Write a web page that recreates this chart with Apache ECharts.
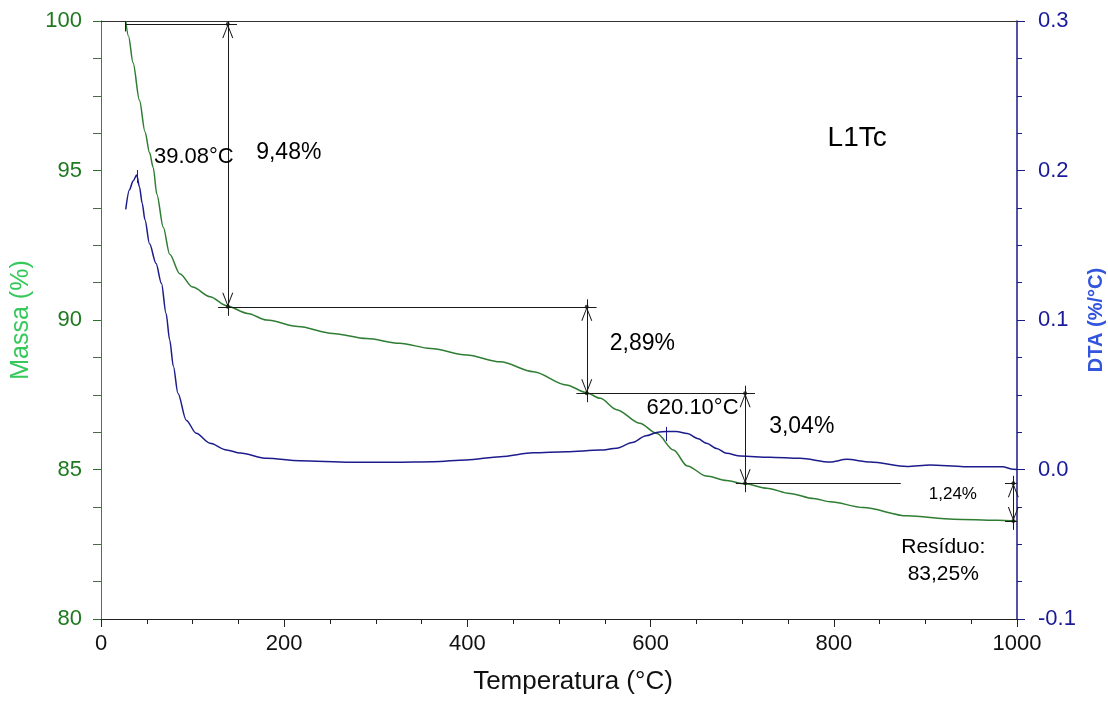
<!DOCTYPE html>
<html>
<head>
<meta charset="utf-8">
<script src="https://cdn.jsdelivr.net/npm/echarts@6.0.0/dist/echarts.min.js"></script>
<style>html,body{margin:0;background:#fff;overflow:hidden}#chart{width:1108px;height:702px}</style>
</head>
<body>
<div id="chart"></div>
<script>
// TGA curve (mass %) vs temperature
const massT = [27, 30, 35, 42, 48, 53, 57, 61, 68, 75, 86, 100, 119, 137, 160, 181, 215, 253, 290, 326, 360, 399, 436, 472, 508, 530, 545, 563, 588, 607, 625, 640, 661, 683, 703, 727, 752, 778, 796, 832, 880, 931, 978, 1000];
const massV = [100.0, 99.5, 98.6, 97.35, 96.3, 95.6, 95.1, 94.2, 93.1, 92.2, 91.55, 91.1, 90.78, 90.48, 90.22, 90.0, 89.78, 89.55, 89.38, 89.22, 89.05, 88.83, 88.6, 88.27, 87.83, 87.57, 87.38, 87.0, 86.55, 86.2, 85.65, 85.12, 84.78, 84.63, 84.52, 84.37, 84.2, 84.03, 83.92, 83.73, 83.45, 83.34, 83.3, 83.27];

// DTA curve (%/°C)
const dtaT = [27, 31, 35, 39, 42, 45, 48, 53, 60, 66, 71, 75, 79, 84, 93, 104, 119, 137, 152, 181, 217, 272, 320, 363, 399, 436, 472, 508, 545, 563, 580, 595, 608, 617, 628, 640, 652, 661, 672, 683, 698, 730, 763, 796, 814, 840, 880, 905, 942, 984, 996, 1000];
const dtaV = [0.174, 0.187, 0.193, 0.197, 0.189, 0.178, 0.167, 0.151, 0.138, 0.1245, 0.1045, 0.0866, 0.069, 0.051, 0.033, 0.0242, 0.0176, 0.0131, 0.011, 0.0075, 0.0059, 0.0048, 0.0049, 0.0052, 0.0064, 0.0086, 0.0112, 0.0119, 0.013, 0.0142, 0.018, 0.0225, 0.025, 0.0255, 0.0255, 0.024, 0.0205, 0.0175, 0.014, 0.0108, 0.009, 0.0082, 0.0075, 0.005, 0.0068, 0.005, 0.002, 0.003, 0.0019, 0.0019, 0.0001, 0.0];

// mass-loss steps (vertical arrows)
const stepT = [138.4, 530.3, 703.2, 996];
const stepTop = [99.9, 90.44, 87.55, 84.54];
const stepBottom = [90.44, 87.55, 84.54, 83.28];

// horizontal guide lines
const guideM = [99.9, 90.44, 87.55, 84.54, 83.28];
const guideFrom = [27, 127.8, 519, 693, 987];
const guideTo = [148.5, 541, 714, 1000, 1000];

// DTA peak markers
const peakT = [39.3, 617.5];
const peakHi = [0.2003, 0.0285];
const peakLo = [0.1916, 0.019];

// text notes
const noteText = ['39.08°C', '9,48%', 'L1Tc', '2,89%', '620.10°C', '3,04%', '1,24%', 'Resíduo:\n83,25%'];
const noteT = [101.3, 205, 825.5, 591, 645.8, 765, 930, 919.5];
const noteM = [95.45, 95.6, 96.09, 89.22, 87.05, 86.43, 84.18, 81.96];

const FONT = '"Liberation Sans", Arial, sans-serif';
const arrowPath = 'path://M4.9,-14L5.1,-14Z M5,0L10,14L9,14L5,2.5L1,14L0,14Z';

const chart = echarts.init(document.getElementById('chart'));

const markLines = [];
guideM.forEach((m, i) => {
  markLines.push([{ coord: [guideFrom[i], m] }, { coord: [guideTo[i], m] }]);
});
stepT.forEach((t, i) => {
  const dashed = i === stepT.length - 1;
  markLines.push([
    { coord: [t, Math.min(100, stepTop[i] + 0.25)] },
    { coord: [t, stepBottom[i] - 0.3] }
  ]);
  markLines.push([
    { coord: [t, stepTop[i]], symbol: arrowPath, symbolSize: [11, 28] },
    { coord: [t, stepBottom[i]], symbol: arrowPath, symbolSize: [11, 28], lineStyle: { type: dashed ? 'dashed' : 'solid' } }
  ]);
});
// start marker of first guide
markLines.push([{ coord: [guideFrom[0], 100] }, { coord: [guideFrom[0], 99.65] }]);

const peakLines = peakT.map((t, i) => [{ coord: [t, peakHi[i]] }, { coord: [t, peakLo[i]] }]);

function noteSize(s) {
  if (s === 'L1Tc') return 28;
  if (s === '1,24%') return 17;
  if (s.indexOf('Resíduo') === 0) return 21;
  if (s.indexOf('°C') > 0) return 22;
  return 23;
}

const notes = noteText.map((s, i) => ({
  value: [noteT[i], noteM[i]],
  name: s,
  label: s === '1,24%'
    ? { fontSize: 17, backgroundColor: '#fff', padding: [9, 28] }
    : { fontSize: noteSize(s), lineHeight: 27 }
}));

const dots = [];
stepT.forEach((t, i) => {
  dots.push([t, stepTop[i]]);
  dots.push([t, stepBottom[i]]);
});

chart.setOption({
  animation: false,
  backgroundColor: '#fff',
  textStyle: { fontFamily: FONT },
  grid: { left: 101, right: 91, top: 21, bottom: 83, containLabel: false, outerBoundsMode: 'none' },
  xAxis: [{
    type: 'value', min: 0, max: 1000, interval: 200,
    name: 'Temperatura (°C)', nameLocation: 'middle', nameGap: 50,
    nameTextStyle: { fontSize: 26, color: '#111', fontFamily: FONT, padding: [0, 0, 0, 28] },
    axisLine: { onZero: false, lineStyle: { color: '#222', width: 1 } },
    axisTick: { length: 8, lineStyle: { color: '#222' } },
    minorTick: { show: true, splitNumber: 4, length: 5, lineStyle: { color: '#222' } },
    splitLine: { show: false },
    axisLabel: { fontSize: 22, color: '#111', margin: 14, fontFamily: FONT, formatter: v => String(v) }
  }, {
    type: 'value', min: 0, max: 1000, position: 'top',
    axisLine: { show: true, onZero: false, lineStyle: { color: '#333', width: 1 } },
    axisTick: { show: false }, axisLabel: { show: false }, splitLine: { show: false }
  }],
  yAxis: [{
    type: 'value', min: 80, max: 100, interval: 5, position: 'left',
    name: 'Massa (%)', nameLocation: 'middle', nameGap: 67,
    nameTextStyle: { fontSize: 25, color: '#35c85a', fontFamily: FONT },
    axisLine: { show: true, onZero: false, lineStyle: { color: '#2f8a2f', width: 1 } },
    axisTick: { length: 8, lineStyle: { color: '#2f6f2f' } },
    minorTick: { show: true, splitNumber: 4, length: 8, lineStyle: { color: '#4a6a4a' } },
    splitLine: { show: false },
    axisLabel: { fontSize: 22, color: '#1f7a1f', margin: 19, fontFamily: FONT }
  }, {
    type: 'value', min: -0.1, max: 0.3, interval: 0.1, position: 'right',
    name: 'DTA (%/°C)', nameLocation: 'middle', nameGap: 58,
    nameTextStyle: { fontSize: 20, fontWeight: 'bold', color: '#3355dd', fontFamily: FONT },
    axisLine: { show: true, onZero: false, lineStyle: { color: '#1a1a88', width: 1.5 } },
    axisTick: { length: 8, lineStyle: { color: '#1a1a88' } },
    minorTick: { show: true, splitNumber: 4, length: 5, lineStyle: { color: '#1a1a88' } },
    splitLine: { show: false },
    axisLabel: { fontSize: 22, color: '#1a1a99', margin: 21, fontFamily: FONT,
      formatter: v => v.toFixed(1) }
  }],
  series: [{
    name: 'Massa',
    type: 'line',
    xAxisIndex: 0, yAxisIndex: 0,
    data: massT.map((t, i) => [t, massV[i]]),
    showSymbol: false,
    smooth: 0.3, smoothMonotone: 'x',
    lineStyle: { color: '#2e7d32', width: 1.5 },
    z: 3,
    markLine: {
      silent: true, animation: false,
      symbol: ['none', 'none'],
      label: { show: false },
      lineStyle: { color: '#1a1a1a', width: 1, type: 'solid' },
      emphasis: { disabled: true },
      data: markLines
    }
  }, {
    name: 'DTA',
    type: 'line',
    xAxisIndex: 0, yAxisIndex: 1,
    data: dtaT.map((t, i) => [t, dtaV[i]]),
    showSymbol: false,
    smooth: 0.3, smoothMonotone: 'x',
    lineStyle: { color: '#1c1c8c', width: 1.5 },
    z: 3,
    markLine: {
      silent: true, animation: false,
      symbol: ['none', 'none'],
      label: { show: false },
      lineStyle: { color: '#1c1c8c', width: 1, type: 'solid' },
      emphasis: { disabled: true },
      data: peakLines
    }
  }, {
    name: 'dots',
    type: 'scatter',
    xAxisIndex: 0, yAxisIndex: 0,
    data: dots,
    symbolSize: 4,
    itemStyle: { color: '#111' },
    silent: true, z: 5
  }, {
    name: 'notes',
    type: 'scatter',
    xAxisIndex: 0, yAxisIndex: 0,
    data: notes,
    symbolSize: 0,
    itemStyle: { color: '#000', opacity: 1 },
    silent: true, z: 6,
    label: {
      show: true, position: 'inside', formatter: '{b}',
      color: '#000', opacity: 1, textBorderWidth: 0, fontFamily: FONT,
      align: 'center', verticalAlign: 'middle'
    }
  }]
});
</script>
</body>
</html>
